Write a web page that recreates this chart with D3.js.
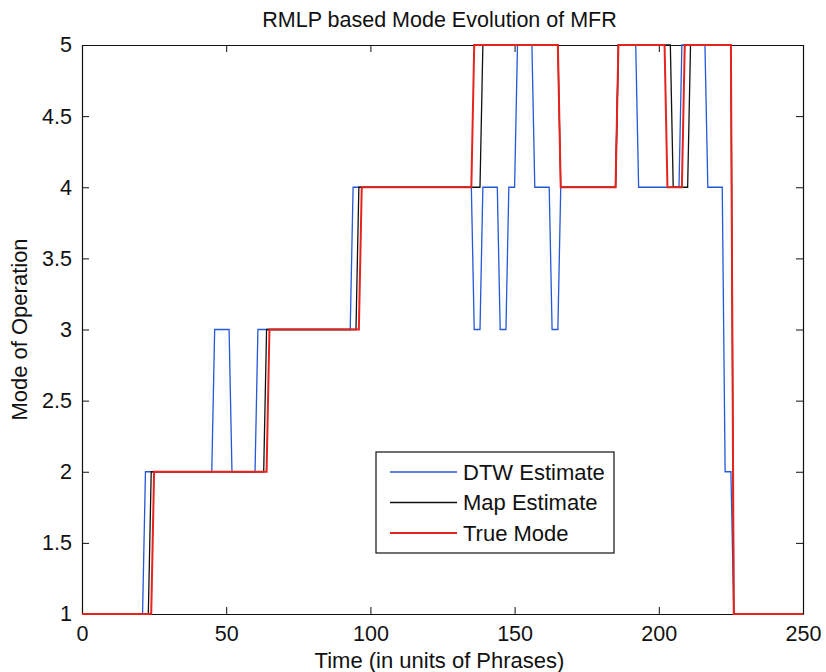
<!DOCTYPE html>
<html>
<head>
<meta charset="utf-8">
<script src="https://cdn.jsdelivr.net/npm/d3@7"></script>
<style>
  body { margin: 0; background: #fff; }
  svg text { font-family: "Liberation Sans", Arial, sans-serif; fill: #111; }
</style>
</head>
<body>
<svg id="chart" width="826" height="672"></svg>
<script>
// vertices of each step curve: [time, mode]
const dtwEstimate = [
  [0,1],[21,1],[22,2],[45,2],[46,3],[51,3],[52,2],[60,2],[61,3],[93,3],[94,4],
  [135,4],[136,3],[138,3],[139,4],[144,4],[145,3],[147,3],[148,4],[150,4],[151,5],
  [156,5],[157,4],[162,4],[163,3],[165,3],[166,4],[185,4],[186,5],[192,5],[193,4],
  [207,4],[208,5],[216,5],[217,4],[222,4],[223,2],[225,2],[226,1],[250,1]
];
const mapEstimate = [
  [0,1],[23,1],[24,2],[63,2],[64,3],[95,3],[96,4],[138,4],[139,5],[165,5],[166,4],
  [185,4],[186,5],[204,5],[205,4],[210,4],[211,5],[225,5],[226,1],[250,1]
];
const trueMode = [
  [0,1],[24,1],[25,2],[64,2],[65,3],[96,3],[97,4],[135,4],[136,5],[165,5],[166,4],
  [185,4],[186,5],[202,5],[203,4],[208,4],[209,5],[225,5],[226,1],[250,1]
];
const seriesNames = ["DTW Estimate", "Map Estimate", "True Mode"];
const seriesColors = ["#2458d6", "#111111", "#e6231c"];
const seriesWidths = [1.3, 1.3, 2];
const xTicks = [0, 50, 100, 150, 200, 250];
const yTicks = [1, 1.5, 2, 2.5, 3, 3.5, 4, 4.5, 5];

const W = 826, H = 672;
const m = { left: 82, right: 23, top: 45, bottom: 58 };
const svg = d3.select('#chart');

const x = d3.scaleLinear().domain([0, 250]).range([m.left, W - m.right]);
const y = d3.scaleLinear().domain([1, 5]).range([H - m.bottom, m.top]);

// axes (ticks inward, mirrored on top/right like matlab)
const tickLen = 7;
svg.append('g').attr('transform', `translate(0,${H - m.bottom})`)
  .call(d3.axisBottom(x).tickValues(xTicks).tickSizeInner(-tickLen).tickSizeOuter(0).tickPadding(12));
svg.append('g').attr('transform', `translate(0,${m.top})`)
  .call(d3.axisTop(x).tickValues(xTicks).tickSizeInner(-tickLen).tickSizeOuter(0).tickFormat(''));
svg.append('g').attr('transform', `translate(${m.left},0)`)
  .call(d3.axisLeft(y).tickValues(yTicks).tickSizeInner(-tickLen).tickSizeOuter(0).tickPadding(10).tickFormat(d3.format('')));
svg.append('g').attr('transform', `translate(${W - m.right},0)`)
  .call(d3.axisRight(y).tickValues(yTicks).tickSizeInner(-tickLen).tickSizeOuter(0).tickFormat(''));

svg.selectAll('.domain').attr('stroke', '#111').attr('stroke-width', 1.2);
svg.selectAll('.tick line').attr('stroke', '#111');
svg.selectAll('.tick text').style('font-size', '21.5px').attr('fill', '#111')
  .style('font-family', '"Liberation Sans", Arial, sans-serif');

// lines
const line = d3.line().x(d => x(d[0])).y(d => y(d[1]));
[dtwEstimate, mapEstimate, trueMode].forEach((s, i) => {
  svg.append('path').datum(s)
    .attr('d', line)
    .attr('fill', 'none')
    .attr('stroke', seriesColors[i])
    .attr('stroke-width', seriesWidths[i]);
});

// titles
svg.append('text').attr('x', (m.left + W - m.right) / 2 - 3).attr('y', 27)
  .attr('text-anchor', 'middle').style('font-size', '21.5px')
  .text('RMLP based Mode Evolution of MFR');
svg.append('text').attr('x', (m.left + W - m.right) / 2 - 3).attr('y', 668)
  .attr('text-anchor', 'middle').style('font-size', '22px')
  .text('Time (in units of Phrases)');
svg.append('text').attr('transform', `translate(27,${(m.top + H - m.bottom) / 2}) rotate(-90)`)
  .attr('text-anchor', 'middle').style('font-size', '22px')
  .text('Mode of Operation');

// legend
const lg = svg.append('g').attr('transform', 'translate(376,452)');
lg.append('rect').attr('width', 238).attr('height', 101)
  .attr('fill', '#fff').attr('stroke', '#111').attr('stroke-width', 1.2);
seriesNames.forEach((name, i) => {
  const yy = 20 + i * 30.5;
  lg.append('line').attr('x1', 14).attr('x2', 81).attr('y1', yy).attr('y2', yy)
    .attr('stroke', seriesColors[i]).attr('stroke-width', seriesWidths[i]);
  lg.append('text').attr('x', 87).attr('y', yy + 7.5).style('font-size', '22px').text(name);
});
</script>
</body>
</html>
